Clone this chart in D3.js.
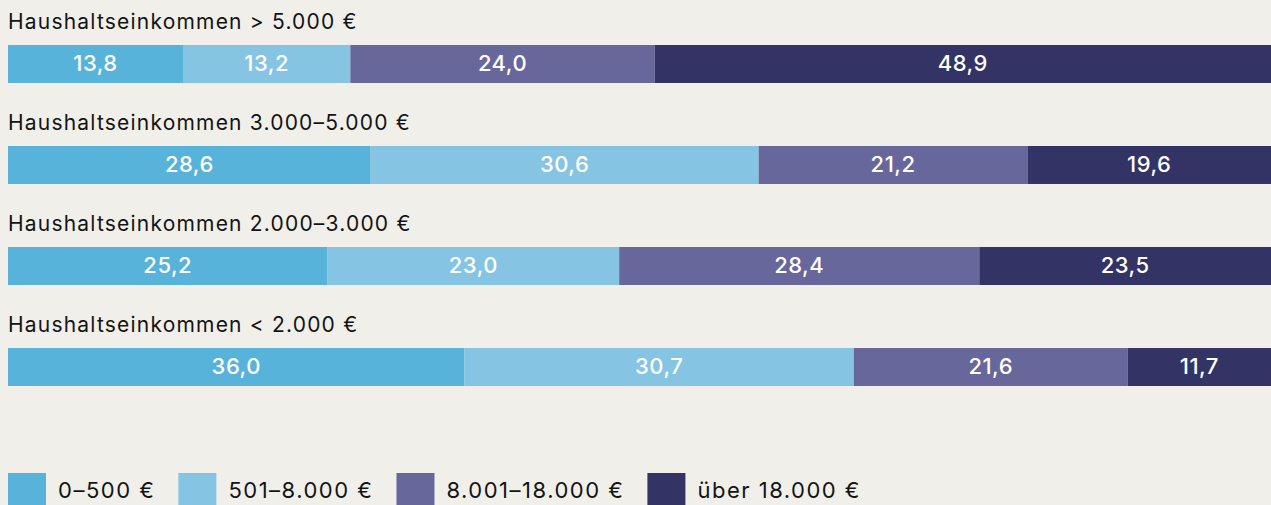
<!DOCTYPE html>
<html>
<head>
<meta charset="utf-8">
<script src="https://cdn.jsdelivr.net/npm/d3@7"></script>
<style>
  body { margin: 0; background: #f0efea; }
  svg { display: block; font-family: Inter, "Noto Sans", sans-serif; }
</style>
</head>
<body>
<div id="plot"></div>
<script>
// Width and height
const w = 1271;
const h = 505;

// data
const categories = [
  "Haushaltseinkommen > 5.000 €",
  "Haushaltseinkommen 3.000–5.000 €",
  "Haushaltseinkommen 2.000–3.000 €",
  "Haushaltseinkommen < 2.000 €"
];
const seriesNames = ["0–500 €", "501–8.000 €", "8.001–18.000 €", "über 18.000 €"];
const s0 = [13.8, 28.6, 25.2, 36.0];
const s1 = [13.2, 30.6, 23.0, 30.7];
const s2 = [24.0, 21.2, 28.4, 21.6];
const s3 = [48.9, 19.6, 23.5, 11.7];
const colors = ["#58b3db", "#86c4e3", "#68679b", "#343366"];

const rows = categories.map((c, i) => ({cat: c, s0: s0[i], s1: s1[i], s2: s2[i], s3: s3[i]}));
const keys = ["s0", "s1", "s2", "s3"];
const stacked = d3.stack().keys(keys)(rows);

const fmt = d3.formatLocale({decimal: ",", thousands: ".", grouping: [3], currency: ["", " €"]}).format(".1f");

// create SVG element
const svg = d3.select("div#plot")
  .append("svg")
    .attr("width", w)
    .attr("height", h);

svg.append("rect")
  .attr("width", w)
  .attr("height", h)
  .attr("fill", "#f0efea");

// scales
const xScale = d3.scaleLinear()
  .domain([0, 100])
  .range([8, 1276]);

const yScale = d3.scaleBand()
  .domain(categories)
  .range([45, 386])
  .paddingInner(0.624)
  .paddingOuter(0);

// row titles
svg.append("g")
  .selectAll("text")
  .data(categories)
  .enter()
  .append("text")
    .attr("x", 8)
    .attr("y", d => yScale(d) - 16)
    .attr("fill", "#141414")
    .style("font-size", "21px")
    .style("letter-spacing", "1.2px")
    .text(d => d);

// bars
const layers = svg.append("g")
  .selectAll("g")
  .data(stacked)
  .enter()
  .append("g")
    .attr("fill", (d, i) => colors[i]);

layers.selectAll("rect")
  .data(d => d)
  .enter()
  .append("rect")
    .attr("x", d => xScale(d[0]))
    .attr("y", d => yScale(d.data.cat))
    .attr("width", d => xScale(d[1]) - xScale(d[0]))
    .attr("height", yScale.bandwidth());

// value labels
layers.selectAll("text")
  .data(d => d.map(v => ({v: v, key: d.key})))
  .enter()
  .append("text")
    .attr("x", d => (xScale(d.v[0]) + Math.min(xScale(d.v[1]), w)) / 2)
    .attr("y", d => yScale(d.v.data.cat) + yScale.bandwidth() / 2)
    .attr("dy", "0.33em")
    .attr("text-anchor", "middle")
    .attr("fill", "#ffffff")
    .style("font-size", "22px")
    .style("font-weight", 500)
    .style("letter-spacing", "0.5px")
    .text(d => fmt(d.v.data[d.key]));

// legend
const legend = svg.append("g");
let lx = 8;
seriesNames.forEach((name, i) => {
  legend.append("rect")
    .attr("x", lx)
    .attr("y", 473)
    .attr("width", 38)
    .attr("height", 38)
    .attr("fill", colors[i]);
  const t = legend.append("text")
    .attr("x", lx + 50)
    .attr("y", 498)
    .attr("fill", "#141414")
    .style("font-size", "22px")
    .style("letter-spacing", "1.5px")
    .text(name);
  lx += 50 + t.node().getComputedTextLength() + 23;
});
</script>
</body>
</html>
